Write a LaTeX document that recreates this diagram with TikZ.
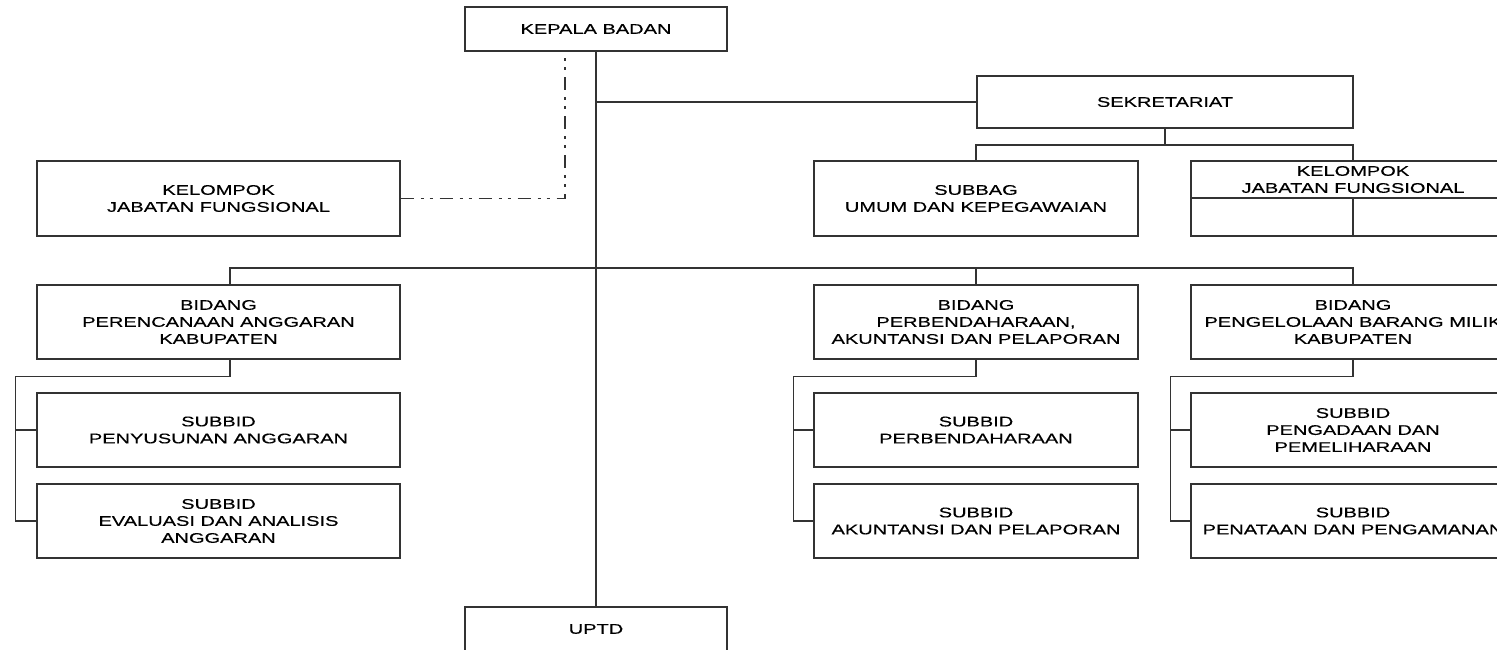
\documentclass[tikz,border=0pt]{standalone}
\usepackage{fontspec}
\setmainfont{Liberation Sans}[FakeStretch=1.43,FakeBold=0.4]
\usepackage{tikz}
\usetikzlibrary{positioning}
\tikzset{
    %Define style for boxes
    kotak/.style={
           rectangle,
           draw=black!80, line width=1.2pt,
           inner sep=0pt,
           align=center,
           text=black,
           font=\fontsize{14}{17}\selectfont},
    % Define line styles
    garis/.style={
           draw=black!80,
           line width=1.2pt},
    putus/.style={
           garis,
           dash pattern=on 13pt off 7pt on 3pt off 6pt on 3pt off 7pt}
}
\newcommand*{\knode}[5]{\node[kotak, minimum width=#2pt, minimum height=#3pt] (#1) at (#4) {#5};}

\begin{document}
\begin{tikzpicture}[x=1pt,y=-1pt]
\useasboundingbox (0,0) rectangle (1497,650);
\clip (0,0) rectangle (1497,650);

% Top level
\knode{kepala}{262}{44}{596,29}{KEPALA BADAN}
\knode{sekr}{376}{52}{1165,102}{SEKRETARIAT}
\knode{uptd}{262}{44}{596,629}{UPTD}

% Second row
\knode{kjfA}{363}{75}{218.5,198.5}{KELOMPOK\\JABATAN FUNGSIONAL}
\knode{subbag}{324}{75}{976,198.5}{SUBBAG\\UMUM DAN KEPEGAWAIAN}
\knode{kjfB}{324}{37}{1353,179.5}{KELOMPOK\\JABATAN FUNGSIONAL}
\knode{kjfC}{324}{38}{1353,217}{}

% Bidang row
\knode{pak}{363}{74}{218.5,322}{BIDANG\\PERENCANAAN ANGGARAN\\KABUPATEN}
\knode{pap}{324}{74}{976,322}{BIDANG\\PERBENDAHARAAN,\\AKUNTANSI DAN PELAPORAN}
\knode{pbmk}{324}{74}{1353,322}{BIDANG\\PENGELOLAAN BARANG MILIK\\KABUPATEN}

% Subbid rows
\knode{sbA1}{363}{74}{218.5,430}{SUBBID\\PENYUSUNAN ANGGARAN}
\knode{sbA2}{363}{74}{218.5,521}{SUBBID\\EVALUASI DAN ANALISIS\\ANGGARAN}
\knode{sbB1}{324}{74}{976,430}{SUBBID\\PERBENDAHARAAN}
\knode{sbB2}{324}{74}{976,521}{SUBBID\\AKUNTANSI DAN PELAPORAN}
\knode{sbC1}{324}{74}{1353,430}{SUBBID\\PENGADAAN DAN\\PEMELIHARAAN}
\knode{sbC2}{324}{74}{1353,521}{SUBBID\\PENATAAN DAN PENGAMANAN}

% Bus points
\coordinate (busS) at (1165,145);
\coordinate (busB) at (596,268);

% Now connect the nodes
\draw[garis] (kepala.south) -- (uptd.north);
\draw[garis] (kepala.south |- sekr.west) -- (sekr.west);
\draw[putus] (kjfA.east) -| ([xshift=-31pt]kepala.south);
\draw[garis] (sekr.south) -- (busS);
\draw[garis] (subbag.north) |- (busS) -| (kjfB.north);
\draw[garis] (kjfC.north) -- (kjfC.south);
\draw[garis] ([xshift=11.5pt]pak.north) |- (busB) -| (pap.north);
\draw[garis] (busB) -| (pbmk.north);

% Subbid brackets
\draw[garis] ([xshift=11.5pt]pak.south) -- ++(0,17) -| ([xshift=-21pt]sbA1.west) |- (sbA2.west);
\draw[garis] ([xshift=-21pt]sbA1.west) -- (sbA1.west);
\draw[garis] (pap.south) -- ++(0,17) -| ([xshift=-20pt]sbB1.west) |- (sbB2.west);
\draw[garis] ([xshift=-20pt]sbB1.west) -- (sbB1.west);
\draw[garis] (pbmk.south) -- ++(0,17) -| ([xshift=-20pt]sbC1.west) |- (sbC2.west);
\draw[garis] ([xshift=-20pt]sbC1.west) -- (sbC1.west);
\end{tikzpicture}
\end{document}
